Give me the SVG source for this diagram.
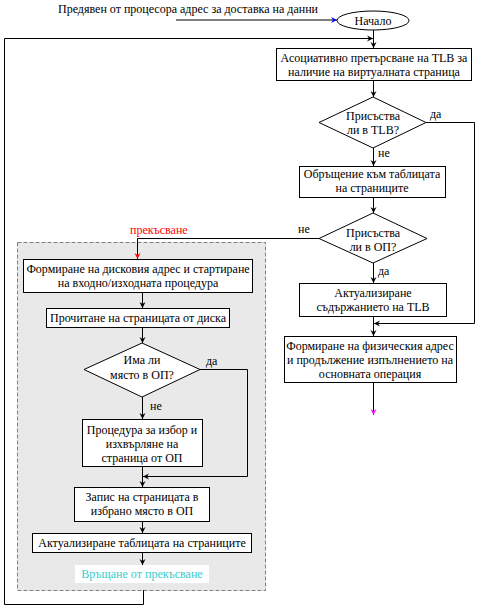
<svg xmlns="http://www.w3.org/2000/svg" width="482" height="613" viewBox="0 0 482 613">
<defs>
<style>
text{font-family:"Liberation Serif","Times New Roman",serif;font-size:12px;fill:#000;text-anchor:middle}
.lbl{font-size:12px;text-anchor:start}
.box{fill:#fff;stroke:#000;stroke-width:1}
.ln{fill:none;stroke:#000;stroke-width:1}
</style>
<marker id="ah" markerWidth="7" markerHeight="7" refX="6" refY="3.5" orient="auto" markerUnits="userSpaceOnUse">
<path d="M0,0.5 L6,3.5 L0,6.5 L2,3.5 Z" fill="#000"/>
</marker>
<marker id="ahb" markerWidth="7" markerHeight="7" refX="6" refY="3.5" orient="auto" markerUnits="userSpaceOnUse">
<path d="M0,0.5 L6,3.5 L0,6.5 L2,3.5 Z" fill="#00f"/>
</marker>
<marker id="ahr" markerWidth="7" markerHeight="7" refX="6" refY="3.5" orient="auto" markerUnits="userSpaceOnUse">
<path d="M0,0.5 L6,3.5 L0,6.5 L2,3.5 Z" fill="#f00"/>
</marker>
<marker id="ahm" markerWidth="7" markerHeight="7" refX="6" refY="3.5" orient="auto" markerUnits="userSpaceOnUse">
<path d="M0,0.5 L6,3.5 L0,6.5 L2,3.5 Z" fill="#f0f"/>
</marker>
</defs>
<rect width="482" height="613" fill="#fff"/>

<g id="interrupt-area">
<rect x="17.5" y="242.5" width="248" height="348" fill="#e9e9e9" stroke="#808080" stroke-dasharray="4,2"/>
</g>

<g id="connectors">
<path class="ln" d="M176,20 H337" stroke="#00f" marker-end="url(#ahb)"/>
<path class="ln" d="M373.5,29 V48" marker-end="url(#ah)"/>
<path class="ln" d="M143.5,590 V604.5 H4.5 V38.5 H373" marker-end="url(#ah)"/>
<path class="ln" d="M373.5,81 V97" marker-end="url(#ah)"/>
<path class="ln" d="M373.5,148 V166" marker-end="url(#ah)"/>
<path class="ln" d="M426,122.5 H474.5 V323.5 H374" marker-end="url(#ah)"/>
<path class="ln" d="M373.5,198 V213" marker-end="url(#ah)"/>
<path class="ln" d="M319,238.5 H137.5 V259" stroke="#f00" marker-end="url(#ahr)"/>
<path class="ln" d="M373.5,263 V283" marker-end="url(#ah)"/>
<path class="ln" d="M373.5,317 V336" marker-end="url(#ah)"/>
<path class="ln" d="M373.5,383 V415" stroke="#f0f" marker-end="url(#ahm)"/>
<path class="ln" d="M142.5,293 V308" marker-end="url(#ah)"/>
<path class="ln" d="M142.5,328 V343" marker-end="url(#ah)"/>
<path class="ln" d="M142.5,397 V419" marker-end="url(#ah)"/>
<path class="ln" d="M200,369.5 H247.5 V476.5 H143" marker-end="url(#ah)"/>
<path class="ln" d="M142.5,467 V487" marker-end="url(#ah)"/>
<path class="ln" d="M142.5,522 V533" marker-end="url(#ah)"/>
<path class="ln" d="M142.5,553 V565" marker-end="url(#ah)"/>
<text class="lbl" x="58" y="13">Предявен от процесора адрес за доставка на данни</text>
<text class="lbl" x="430" y="118">да</text>
<text class="lbl" x="378" y="157">не</text>
<text class="lbl" x="298" y="233">не</text>
<text class="lbl" x="378" y="275">да</text>
<text class="lbl" x="130" y="234" style="fill:#f00">прекъсване</text>
<text class="lbl" x="206" y="365">да</text>
<text class="lbl" x="150" y="410">не</text>
</g>

<g id="start">
<ellipse cx="373" cy="20.5" rx="36" ry="9.5" class="box"/>
<text x="373" y="25">Начало</text>
</g>

<g id="tlb-search">
<rect x="276.5" y="48.5" width="195" height="32" class="box"/>
<text x="374" y="62">Асоциативно претърсване на TLB за</text>
<text x="374" y="76">наличие на виртуалната страница</text>
</g>

<g id="in-tlb">
<polygon points="373,97 426,122.5 373,148 319,122.5" class="box"/>
<text x="373" y="120">Присъства</text>
<text x="373" y="134">ли в TLB?</text>
</g>

<g id="page-table">
<rect x="299.5" y="166.5" width="146" height="31" class="box"/>
<text x="372" y="178">Обръщение към таблицата</text>
<text x="372" y="192">на страниците</text>
</g>

<g id="in-memory">
<polygon points="373,213 427,238.5 373,263 319,238.5" class="box"/>
<text x="373" y="237">Присъства</text>
<text x="373" y="251">ли в ОП?</text>
</g>

<g id="update-tlb">
<rect x="299.5" y="283.5" width="147" height="33" class="box"/>
<text x="373" y="297">Актуализиране</text>
<text x="373" y="311">съдържанието на TLB</text>
</g>

<g id="physical-address">
<rect x="284.5" y="336.5" width="172" height="46" class="box"/>
<text x="370" y="350">Формиране на физическия адрес</text>
<text x="370" y="364">и продължение изпълнението на</text>
<text x="370" y="378">основната операция</text>
</g>

<g id="disk-address">
<rect x="23.5" y="259.5" width="229" height="33" class="box"/>
<text x="138" y="273">Формиране на дисковия адрес и стартиране</text>
<text x="138" y="287">на входно/изходната процедура</text>
</g>

<g id="read-page">
<rect x="46.5" y="308.5" width="183" height="19" class="box"/>
<text x="138" y="322">Прочитане на страницата от диска</text>
</g>

<g id="has-space">
<polygon points="142,343 200,369.5 142,397 84,369.5" class="box"/>
<text x="142" y="364">Има ли</text>
<text x="142" y="379">място в ОП?</text>
</g>

<g id="evict">
<rect x="82.5" y="419.5" width="120" height="47" class="box"/>
<text x="142" y="434">Процедура за избор и</text>
<text x="142" y="448">изхвърляне на</text>
<text x="142" y="462">страница от ОП</text>
</g>

<g id="write-page">
<rect x="74.5" y="487.5" width="135" height="34" class="box"/>
<text x="142" y="501">Запис на страницата в</text>
<text x="142" y="515">избрано място в ОП</text>
</g>

<g id="update-table">
<rect x="32.5" y="533.5" width="219" height="19" class="box"/>
<text x="142" y="547">Актуализиране таблицата на страниците</text>
</g>

<g id="return">
<rect x="75" y="565" width="134" height="18" fill="#fff"/>
<text x="142" y="578" style="fill:#33cccc">Връщане от прекъсване</text>
</g>
</svg>
